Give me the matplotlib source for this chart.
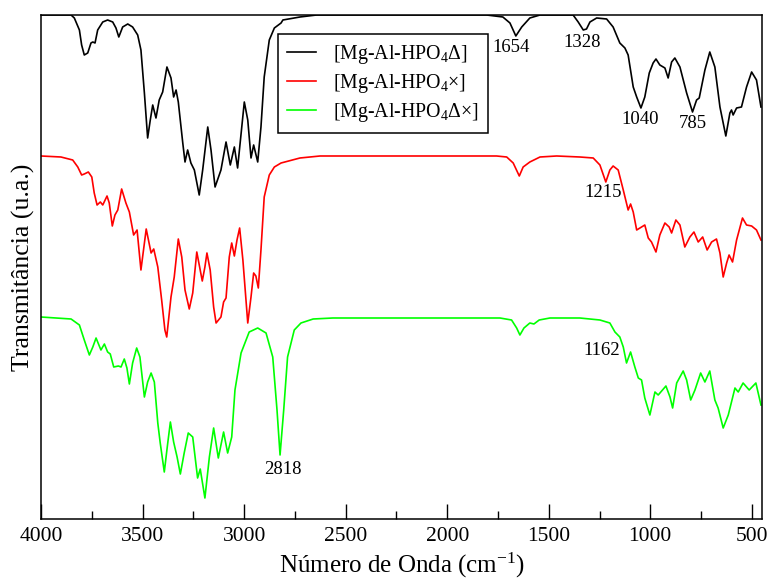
import matplotlib
matplotlib.use("Agg")
import matplotlib.pyplot as plt

plt.rcParams["font.family"] = ["Liberation Serif", "DejaVu Serif"]
plt.rcParams["mathtext.fontset"] = "custom"
plt.rcParams["mathtext.rm"] = "Liberation Serif"
plt.rcParams["mathtext.it"] = "Liberation Serif:italic"

# --- spectra (wavenumber in cm-1, transmittance in arbitrary units, offset per curve)
WN_DELTA = [4000, 3852, 3836, 3811, 3800, 3787, 3770, 3754, 3745, 3734, 3721, 3696, 3672,
            3647, 3631, 3617, 3598, 3573, 3549, 3524, 3508, 3491, 3475, 3462, 3450,
            3434, 3418, 3401, 3380, 3360, 3347, 3335, 3324, 3302, 3291, 3278, 3262,
            3245, 3221, 3204, 3179, 3163, 3143, 3114, 3089, 3068, 3048, 3032, 2999,
            2982, 2966, 2953, 2933, 2917, 2901, 2876, 2851, 2818, 2809, 2725, 2643,
            2592, 1806, 1726, 1691, 1662, 1633, 1593, 1543, 1380, 1355, 1330, 1314,
            1297, 1264, 1215, 1183, 1150, 1125, 1109, 1084, 1067, 1046, 1027, 1005,
            986, 972, 953, 928, 912, 895, 879, 854, 821, 792, 772, 759, 731, 707,
            682, 657, 628, 608, 600, 592, 575, 551, 526, 501, 477, 455]
T_DELTA = [504, 504, 501, 489, 474, 464, 466, 476, 477, 476, 489, 497, 499,
           497, 491, 482, 492, 495, 492, 484, 469, 426, 381, 399, 414,
           401, 419, 427, 452, 441, 422, 429, 417, 376, 357, 369, 356,
           349, 324, 349, 392, 369, 332, 349, 377, 354, 372, 351, 417,
           399, 361, 374, 357, 392, 442, 479, 491, 496, 499, 502, 504,
           504, 504, 502, 496, 483, 492, 501, 504, 504, 497, 489, 490,
           497, 501, 500, 492, 476, 471, 464, 432, 422, 411, 422, 446,
           456, 460, 454, 451, 441, 457, 461, 452, 426, 407, 419, 421, 449, 467,
           452, 412, 383, 406, 409, 404, 411, 412, 432, 447, 439, 412]

WN_TIMES = [4000, 3902, 3844, 3819, 3800, 3787, 3767, 3750, 3738, 3724, 3708, 3696,
            3675, 3664, 3649, 3636, 3622, 3603, 3582, 3565, 3544, 3527, 3508, 3482,
            3458, 3445, 3425, 3406, 3390, 3381, 3360, 3344, 3324, 3307, 3291, 3270,
            3253, 3233, 3219, 3206, 3193, 3183, 3167, 3150, 3138, 3114, 3101, 3089,
            3073, 3061, 3048, 3035, 3022, 3006, 2982, 2966, 2953, 2942, 2930, 2917,
            2901, 2876, 2851, 2818, 2725, 2626, 1757, 1707, 1675, 1645, 1626, 1593,
            1543, 1461, 1347, 1281, 1248, 1219, 1199, 1183, 1158, 1133, 1109, 1097,
            1084, 1067, 1051, 1027, 1010, 994, 972, 953, 928, 907, 895, 874, 854,
            830, 805, 785, 764, 742, 720, 698, 674, 657, 641, 624, 612, 595, 575,
            546, 526, 501, 477, 455]
T_TIMES = [363, 362, 359, 352, 344, 345, 347, 342, 326, 314, 317, 314,
           323, 316, 293, 304, 309, 330, 316, 307, 284, 289, 249, 290,
           266, 270, 252, 219, 189, 182, 222, 242, 280, 262, 229, 210,
           226, 267, 252, 238, 252, 266, 249, 212, 196, 202, 217, 221,
           262, 276, 263, 279, 291, 259, 196, 222, 246, 243, 231, 269,
           322, 344, 352, 356, 361, 363, 363, 362, 356, 343, 352, 357,
           362, 363, 362, 361, 354, 337, 349, 353, 349, 329, 309, 315,
           307, 289, 291, 294, 281, 277, 267, 284, 296, 292, 286, 299, 294,
           272, 282, 287, 277, 282, 269, 277, 280, 266, 242, 256, 264, 257, 279,
           301, 294, 293, 289, 279]

WN_BOTH = [4000, 3852, 3811, 3787, 3762, 3745, 3729, 3705, 3688, 3672, 3659, 3642,
           3619, 3606, 3590, 3577, 3565, 3549, 3529, 3513, 3491, 3475, 3458, 3442,
           3425, 3413, 3393, 3376, 3363, 3347, 3330, 3314, 3295, 3275, 3253, 3229,
           3216, 3193, 3171, 3150, 3127, 3101, 3081, 3061, 3045, 3015, 2975, 2933,
           2892, 2859, 2838, 2823, 2805, 2786, 2753, 2720, 2660, 2563, 2331, 1740,
           1683, 1658, 1642, 1622, 1593, 1573, 1547, 1494, 1347, 1248, 1199, 1174,
           1150, 1133, 1117, 1097, 1076, 1059, 1043, 1027, 1002, 977, 961, 923,
           903, 890, 870, 838, 821, 801, 780, 752, 731, 707, 682, 666, 641, 616,
           583, 567, 543, 513, 480, 455]
T_BOTH = [202, 200, 194, 179, 164, 172, 181, 169, 175, 167, 165, 152,
          153, 152, 160, 151, 135, 156, 171, 162, 122, 137, 146, 137,
          96, 76, 47, 76, 97, 77, 62, 45, 66, 86, 82, 41,
          50, 21, 62, 91, 61, 87, 66, 82, 129, 166, 187, 191,
          186, 162, 109, 64, 109, 162, 189, 196, 200, 201, 201, 201,
          199, 191, 184, 191, 196, 195, 199, 201, 201, 199, 196, 187,
          182, 172, 156, 167, 152, 141, 139, 121, 104, 127, 124, 133,
          122, 111, 136, 148, 139, 119, 129, 146, 137, 148, 119, 111, 91, 104,
          131, 127, 136, 129, 136, 114]

LABELS = ["[Mg-Al-HPO$_4$\u0394]", "[Mg-Al-HPO$_4$\u00d7]", "[Mg-Al-HPO$_4$\u0394\u00d7]"]
COLORS = ["black", "#ff0000", "#00ff00"]

# peak annotations: (text, wavenumber, y)
PEAK_TEXT = ["1654", "1328", "1040", "785", "1215", "1162", "2818"]
PEAK_WN = [1683, 1335, 1051, 789, 1232, 1240, 2810]
PEAK_Y = [471, 476, 399, 395, 326, 169, 50]

fig = plt.figure(figsize=(7.71, 5.81), dpi=100)
ax = fig.add_axes([0.0532, 0.1067, 0.9351, 0.8675])

for wn, t, lab, col in zip([WN_DELTA, WN_TIMES, WN_BOTH], [T_DELTA, T_TIMES, T_BOTH],
                           LABELS, COLORS):
    ax.plot(wn, t, color=col, lw=1.2, label=lab)

for txt, x, y in zip(PEAK_TEXT, PEAK_WN, PEAK_Y):
    ax.text(x, y, txt, ha="center", va="center", fontsize=13.5)

ax.set_xlim(4000, 450)
ax.set_ylim(0, 504)
ax.set_xticks([4000, 3500, 3000, 2500, 2000, 1500, 1000, 500])
ax.set_xticks(range(3750, 449, -500), minor=True)
ax.set_yticks([])
ax.tick_params(axis="x", which="major", direction="in", length=10.5, width=1,
               labelsize=15.5, pad=6)
ax.tick_params(axis="x", which="minor", direction="in", length=6, width=1)
for s in ax.spines.values():
    s.set_linewidth(1.1)

ax.set_xlabel("Número de Onda (cm$^{-1}$)", fontsize=18, labelpad=3)
ax.set_ylabel("Transmitância (u.a.)", fontsize=18.5, labelpad=4)

leg = ax.legend(loc="upper left", bbox_to_anchor=(0.329, 0.962), fontsize=14.3,
                frameon=True, fancybox=False, edgecolor="black", framealpha=1,
                handlelength=1.45, handletextpad=0.85, labelspacing=0.3,
                borderpad=0.45, borderaxespad=0)
leg.get_frame().set_linewidth(1.1)

fig.savefig("out.png", dpi=100)
